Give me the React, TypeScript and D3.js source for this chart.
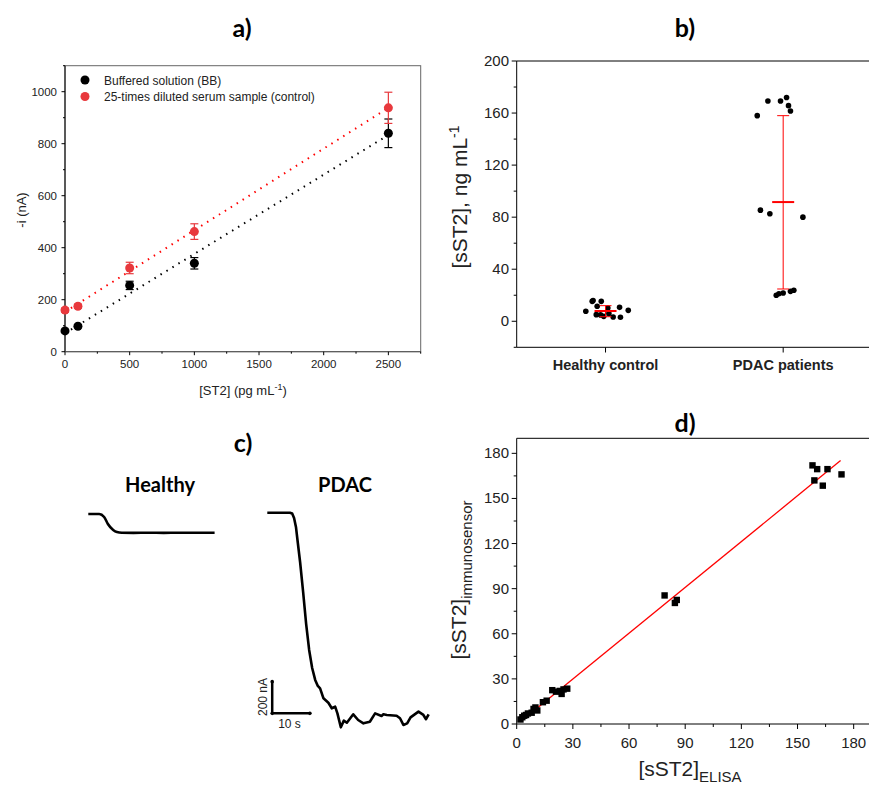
import React from "react";
import * as d3 from "d3";

// ---- panel a: calibration ----
const st2Conc = [0, 100, 500, 1000, 2500];
const bbCurrent = [80, 98, 255, 340, 840];
const bbError = [6, 6, 16, 22, 55];
const serumCurrent = [160, 175, 322, 462, 938];
const serumError = [8, 8, 22, 30, 60];
const bbFit = { a: 71, b: 0.305 };
const serumFit = { a: 153, b: 0.314 };
const aXTicks = [0, 500, 1000, 1500, 2000, 2500];
const aYTicks = [0, 200, 400, 600, 800, 1000];

// ---- panel b: groups ----
const groups = ["Healthy control", "PDAC patients"];
const healthyValues = [15.3, 16, 15.3, 7.7, 11.5, 10.2, 10.7, 8.4, 5.1, 4.9, 3.8, 5.9, 3.3, 3.1];
const healthyJitter = [-0.075, -0.07, -0.024, -0.111, -0.047, 0.013, 0.079, 0.128, -0.052, -0.028, -0.01, 0.019, 0.043, 0.084];
const pdacValues = [158, 169.3, 169.3, 171.9, 165.7, 161.6, 85.4, 82.6, 80, 20, 21.2, 21.7, 23, 23.8];
const pdacJitter = [-0.146, -0.086, -0.015, 0.019, 0.03, 0.041, -0.128, -0.075, 0.111, -0.039, -0.024, 0, 0.041, 0.06];
const groupMean = [7.9, 91.6];
const groupLow = [3.5, 24.8];
const groupHigh = [12, 158];
const bYTicks = [0, 40, 80, 120, 160, 200];

// ---- panel c: amperometric traces (t in s, current change in nA) ----
const healthyT = [0, 2.9, 4.2, 5.2, 6.6, 7.6, 8.9, 12, 16, 20, 24, 28, 33.5];
const healthyI = [0, 0, -19, -63, -101, -114, -118, -119, -118, -119, -118, -118, -118];
const pdacT = [0, 6.0, 6.6, 7.1, 7.6, 8.1, 8.7, 9.5, 10.3, 11.1, 11.9, 12.7, 13.4, 14.0, 14.9, 16.2, 17.1, 18.0, 18.6, 19.5, 20.3, 21.1, 22.8, 24.1, 25.5, 27.2, 28.6, 30.3, 30.8, 31.7, 34.3, 35.2, 36.1, 37.1, 38.0, 40.1, 41.4, 42.1, 42.8];
const pdacI = [0, 0, -5, -33, -90, -191, -311, -500, -702, -866, -980, -1055, -1093, -1108, -1171, -1199, -1234, -1224, -1266, -1354, -1312, -1325, -1272, -1308, -1329, -1319, -1266, -1283, -1272, -1276, -1281, -1297, -1339, -1329, -1291, -1255, -1276, -1303, -1272];

// ---- panel d: correlation ----
const elisa = [2, 3, 4, 5, 6, 8, 9, 10, 11, 14, 16, 19, 21, 23, 24, 25, 27, 79, 84.5, 85.5, 158, 160.5, 166, 159, 163.5, 173.5];
const immuno = [3, 4.5, 5.5, 6, 7, 7.5, 10, 11, 9, 14.5, 15.5, 22.5, 21.5, 22, 20, 23, 23.5, 85.5, 80.5, 82.5, 172, 169.5, 169.5, 162, 158.5, 166];
const dFit = { a: -0.6, b: 1.016, from: 2, to: 173 };
const dTicks = [0, 30, 60, 90, 120, 150, 180];

const AX = "Liberation Sans, Arial, sans-serif";
const TITLE = "Lato, Open Sans, sans-serif";

const PanelA = () => {
  const x = d3.scaleLinear().domain([0, 2750]).range([65, 420.7]);
  const y = d3.scaleLinear().domain([0, 1100]).range([351.7, 65.7]);
  const line = (f) => d3.line()([[0, f.a], [2500, f.a + f.b * 2500]].map(([u, v]) => [x(u), y(v)]));
  const series = [
    { v: bbCurrent, e: bbError, c: "#000", fit: bbFit },
    { v: serumCurrent, e: serumError, c: "#e8393d", fit: serumFit },
  ];
  return (
    <g>
      <rect x={65} y={65.7} width={355.7} height={286} fill="none" stroke="#666" />
      <line x1={65} x2={65} y1={65.7} y2={351.7} stroke="#000" />
      <line x1={65} x2={420.7} y1={351.7} y2={351.7} stroke="#555" />
      {d3.range(0, 2751, 250).map((t) => (
        <line key={t} x1={x(t)} x2={x(t)} y1={351.7} y2={351.7 + (t % 500 === 0 ? 3.5 : 2)} stroke="#000" />
      ))}
      {d3.range(0, 1101, 100).map((t) => (
        <line key={t} x1={65} x2={65 - (t % 200 === 0 ? 3.5 : 2)} y1={y(t)} y2={y(t)} stroke="#000" />
      ))}
      {aXTicks.map((t) => (
        <text key={t} x={x(t)} y={368} textAnchor="middle" fontSize={11.5} fontFamily={AX} fill="#222">{t}</text>
      ))}
      {aYTicks.map((t) => (
        <text key={t} x={57} y={y(t) + 4} textAnchor="end" fontSize={11.5} fontFamily={AX} fill="#222">{t}</text>
      ))}
      <text x={243} y={395} textAnchor="middle" fontSize={13} fontFamily={AX} fill="#222">
        [ST2] (pg mL<tspan dy={-5} fontSize={9}>-1</tspan><tspan dy={5}>)</tspan>
      </text>
      <text transform="translate(26,210) rotate(-90)" textAnchor="middle" fontSize={13} fontFamily={AX} fill="#222">-i (nA)</text>
      {series.map((s, k) => (
        <g key={k}>
          <path d={line(s.fit)} stroke={s.c === "#000" ? "#000" : "#f00"} strokeWidth={2} strokeDasharray="1.5 5.5" fill="none" />
          {st2Conc.map((c, i) => (
            <g key={i} stroke={s.c} strokeWidth={1.2}>
              <line x1={x(c)} x2={x(c)} y1={y(s.v[i] - s.e[i])} y2={y(s.v[i] + s.e[i])} />
              <line x1={x(c) - 4} x2={x(c) + 4} y1={y(s.v[i] - s.e[i])} y2={y(s.v[i] - s.e[i])} />
              <line x1={x(c) - 4} x2={x(c) + 4} y1={y(s.v[i] + s.e[i])} y2={y(s.v[i] + s.e[i])} />
              <circle cx={x(c)} cy={y(s.v[i])} r={4.5} fill={s.c} stroke="none" />
            </g>
          ))}
        </g>
      ))}
      <circle cx={85} cy={80} r={4.5} fill="#000" />
      <text x={104} y={84.5} fontSize={12} fontFamily={AX} fill="#222">Buffered solution (BB)</text>
      <circle cx={85} cy={96.5} r={4.5} fill="#e8393d" />
      <text x={104} y={101} fontSize={12} fontFamily={AX} fill="#222">25-times diluted serum sample (control)</text>
      <text x={242} y={37} textAnchor="middle" fontSize={25} fontWeight="bold" fontFamily={TITLE}>a)</text>
    </g>
  );
};

const PanelB = () => {
  const x = d3.scaleLinear().domain([0.5, 2.5]).range([516.7, 872]);
  const y = d3.scaleLinear().domain([-20, 200]).range([347.3, 61]);
  const pts = [
    { v: healthyValues, j: healthyJitter, g: 1 },
    { v: pdacValues, j: pdacJitter, g: 2 },
  ];
  return (
    <g>
      <line x1={516.7} x2={872} y1={61} y2={61} stroke="#000" />
      <line x1={516.7} x2={516.7} y1={61} y2={347.3} stroke="#000" />
      <line x1={516.7} x2={872} y1={347.3} y2={347.3} stroke="#000" />
      {d3.range(-20, 201, 20).map((t) => (
        <line key={t} x1={516.7} x2={516.7 - (t % 40 === 0 ? 5 : 3)} y1={y(t)} y2={y(t)} stroke="#000" />
      ))}
      {bYTicks.map((t) => (
        <text key={t} x={509} y={y(t) + 5} textAnchor="end" fontSize={15} fontFamily={AX} fill="#222">{t}</text>
      ))}
      {groups.map((g, i) => (
        <g key={g}>
          <line x1={x(i + 1)} x2={x(i + 1)} y1={347.3} y2={352.5} stroke="#000" />
          <text x={x(i + 1)} y={370} textAnchor="middle" fontSize={14.5} fontWeight="bold" fontFamily={AX} fill="#222">{g}</text>
        </g>
      ))}
      <text transform="translate(467,197) rotate(-90)" textAnchor="middle" fontSize={21} fontFamily={AX} fill="#222">
        [sST2], ng mL<tspan dy={-8} fontSize={14}>-1</tspan>
      </text>
      {pts.map((p) =>
        p.v.map((v, i) => <circle key={p.g + "-" + i} cx={x(p.g + p.j[i])} cy={y(v)} r={2.8} fill="#000" />)
      )}
      {groupMean.map((m, i) => {
        const cx = x(i + 1);
        return (
          <g key={i} stroke="#f00">
            <line x1={cx} x2={cx} y1={y(groupLow[i])} y2={y(groupHigh[i])} strokeWidth={1} />
            <line x1={cx - 6} x2={cx + 6} y1={y(groupLow[i])} y2={y(groupLow[i])} strokeWidth={1} />
            <line x1={cx - 6} x2={cx + 6} y1={y(groupHigh[i])} y2={y(groupHigh[i])} strokeWidth={1} />
            <line x1={cx - 11} x2={cx + 11} y1={y(m)} y2={y(m)} strokeWidth={2} />
          </g>
        );
      })}
      <text x={685} y={37} textAnchor="middle" fontSize={25} fontWeight="bold" fontFamily={TITLE}>b)</text>
    </g>
  );
};

const PanelC = () => {
  const t = d3.scaleLinear().domain([0, 10]).range([0, 37.7]);
  const i = d3.scaleLinear().domain([0, -200]).range([0, 31.7]);
  const path = (ts, is, curve) => d3.line().curve(curve)(ts.map((v, k) => [t(v), i(is[k])]));
  const bar0 = { t: 1.3, i: -1266 };
  return (
    <g>
      <text x={243} y={452} textAnchor="middle" fontSize={25} fontWeight="bold" fontFamily={TITLE}>c)</text>
      <text x={160} y={492} textAnchor="middle" fontSize={20} fontWeight="bold" fontFamily={TITLE}>Healthy</text>
      <text x={345} y={492} textAnchor="middle" fontSize={20} fontWeight="bold" fontFamily={TITLE}>PDAC</text>
      <g transform="translate(88.3,514)">
        <path d={path(healthyT, healthyI, d3.curveMonotoneX)} fill="none" stroke="#000" strokeWidth={2.6} />
      </g>
      <g transform="translate(267.3,512.7)">
        <path d={path(pdacT, pdacI, d3.curveLinear)} fill="none" stroke="#000" strokeWidth={2.6} strokeLinejoin="round" />
        <g stroke="#000" strokeWidth={2.5}>
          <line x1={t(bar0.t)} x2={t(bar0.t)} y1={i(bar0.i)} y2={i(bar0.i + 200)} />
          <line x1={t(bar0.t)} x2={t(bar0.t + 10)} y1={i(bar0.i)} y2={i(bar0.i)} />
        </g>
        {[[bar0.t, bar0.i], [bar0.t, bar0.i + 200], [bar0.t + 10, bar0.i]].map(([a, b], k) => (
          <circle key={k} cx={t(a)} cy={i(b)} r={1.8} fill="#000" />
        ))}
      </g>
      <text x={289.5} y={728} textAnchor="middle" fontSize={12} fontFamily={AX} fill="#222">10 s</text>
      <text transform="translate(266.5,697) rotate(-90)" textAnchor="middle" fontSize={12} fontFamily={AX} fill="#222">200 nA</text>
    </g>
  );
};

const PanelD = () => {
  const x = d3.scaleLinear().domain([0, 190]).range([516.7, 872.4]);
  const y = d3.scaleLinear().domain([0, 190]).range([724, 438.3]);
  return (
    <g>
      <line x1={516.7} x2={872} y1={438.3} y2={438.3} stroke="#000" />
      <line x1={516.7} x2={516.7} y1={438.3} y2={724} stroke="#000" />
      <line x1={516.7} x2={872} y1={724} y2={724} stroke="#000" />
      {d3.range(0, 181, 15).map((v) => (
        <g key={v}>
          <line x1={x(v)} x2={x(v)} y1={724} y2={724 + (v % 30 === 0 ? 5 : 3)} stroke="#000" />
          <line x1={516.7} x2={516.7 - (v % 30 === 0 ? 5 : 3)} y1={y(v)} y2={y(v)} stroke="#000" />
        </g>
      ))}
      {dTicks.map((v) => (
        <g key={v}>
          <text x={x(v)} y={748} textAnchor="middle" fontSize={15} fontFamily={AX} fill="#222">{v}</text>
          <text x={509} y={y(v) + 5} textAnchor="end" fontSize={15} fontFamily={AX} fill="#222">{v}</text>
        </g>
      ))}
      <text x={690} y={776} textAnchor="middle" fontSize={21} fontFamily={AX} fill="#222">
        [sST2]<tspan dy={6} fontSize={15}>ELISA</tspan>
      </text>
      <text transform="translate(466,580) rotate(-90)" textAnchor="middle" fontSize={21} fontFamily={AX} fill="#222">
        [sST2]<tspan dy={6} fontSize={15}>immunosensor</tspan>
      </text>
      <path d={d3.line()([dFit.from, dFit.to].map((u) => [x(u), y(dFit.a + dFit.b * u)]))} stroke="#f00" strokeWidth={1.3} fill="none" />
      {elisa.map((e, k) => (
        <rect key={k} x={x(e) - 3.2} y={y(immuno[k]) - 3.2} width={6.4} height={6.4} fill="#000" />
      ))}
      <text x={685} y={432} textAnchor="middle" fontSize={25} fontWeight="bold" fontFamily={TITLE}>d)</text>
    </g>
  );
};

export default function App() {
  return (
    <svg width={869} height={787} style={{ position: "absolute", left: 0, top: 0, background: "#fff" }}>
      <rect width={869} height={787} fill="#fff" />
      <PanelA />
      <PanelB />
      <PanelC />
      <PanelD />
    </svg>
  );
}
